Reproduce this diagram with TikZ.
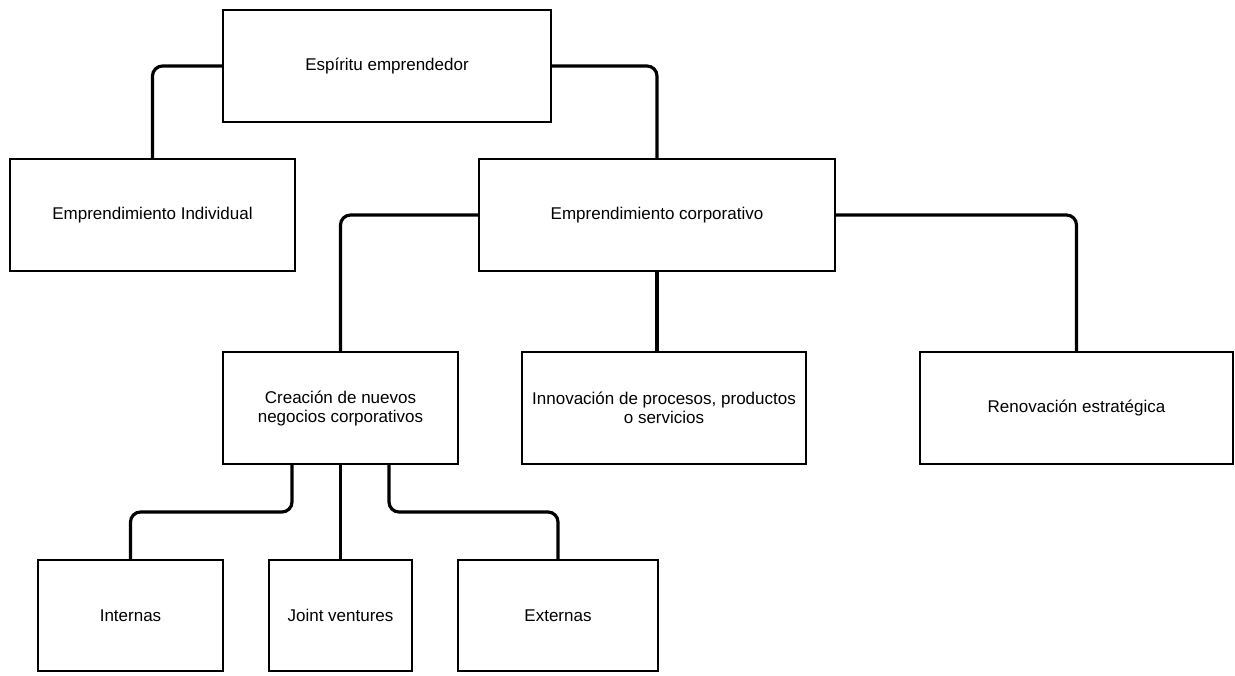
\documentclass[tikz,border=0pt]{standalone}
\usepackage{fontspec}
\setmainfont{Liberation Sans}
\begin{document}
\begin{tikzpicture}[x=0.75pt,y=-0.75pt,
  box/.style={draw=black,line width=2pt,fill=white,inner sep=0pt,outer sep=0pt,
    align=center,font=\fontsize{12.75pt}{14.25pt}\selectfont,minimum height=84pt},
  conn/.style={draw=black,line width=2.4pt,rounded corners=7.5pt}]
\fill[white] (0,0) rectangle (1235,675);
\node[box,minimum width=246pt] (esp) at (387,66) {Espíritu emprendedor};
\node[box,minimum width=213.75pt] (ind) at (152.5,215) {Emprendimiento Individual};
\node[box,minimum width=267pt] (corp) at (657,215) {Emprendimiento corporativo};
\node[box,minimum width=176.25pt] (cre) at (340.5,408) {Creación de nuevos\\negocios corporativos};
\node[box,minimum width=213pt] (inn) at (664,408) {Innovación de procesos, productos\\o servicios};
\node[box,minimum width=234.75pt] (ren) at (1076.5,408) {Renovación estratégica};
\node[box,minimum width=138.75pt,minimum height=83.25pt] (int) at (130.5,615.5) {Internas};
\node[box,minimum width=107.25pt,minimum height=83.25pt] (joint) at (340.5,615.5) {Joint ventures};
\node[box,minimum width=150pt,minimum height=83.25pt] (ext) at (558,615.5) {Externas};
\draw[conn] (esp.west) -| (ind.north);
\draw[conn] (esp.east) -| (corp.north);
\draw[conn] (corp.west) -| (cre.north);
\draw[conn] (corp.east) -| (ren.north);
\draw[conn] (corp.south) -- (corp.south |- inn.north);
\draw[conn] ([xshift=-36.375pt]cre.south) -- ++(0,48) -| (int.north);
\draw[conn] (cre.south) -- (joint.north);
\draw[conn] ([xshift=36.375pt]cre.south) -- ++(0,48) -| (ext.north);
\end{tikzpicture}
\end{document}
